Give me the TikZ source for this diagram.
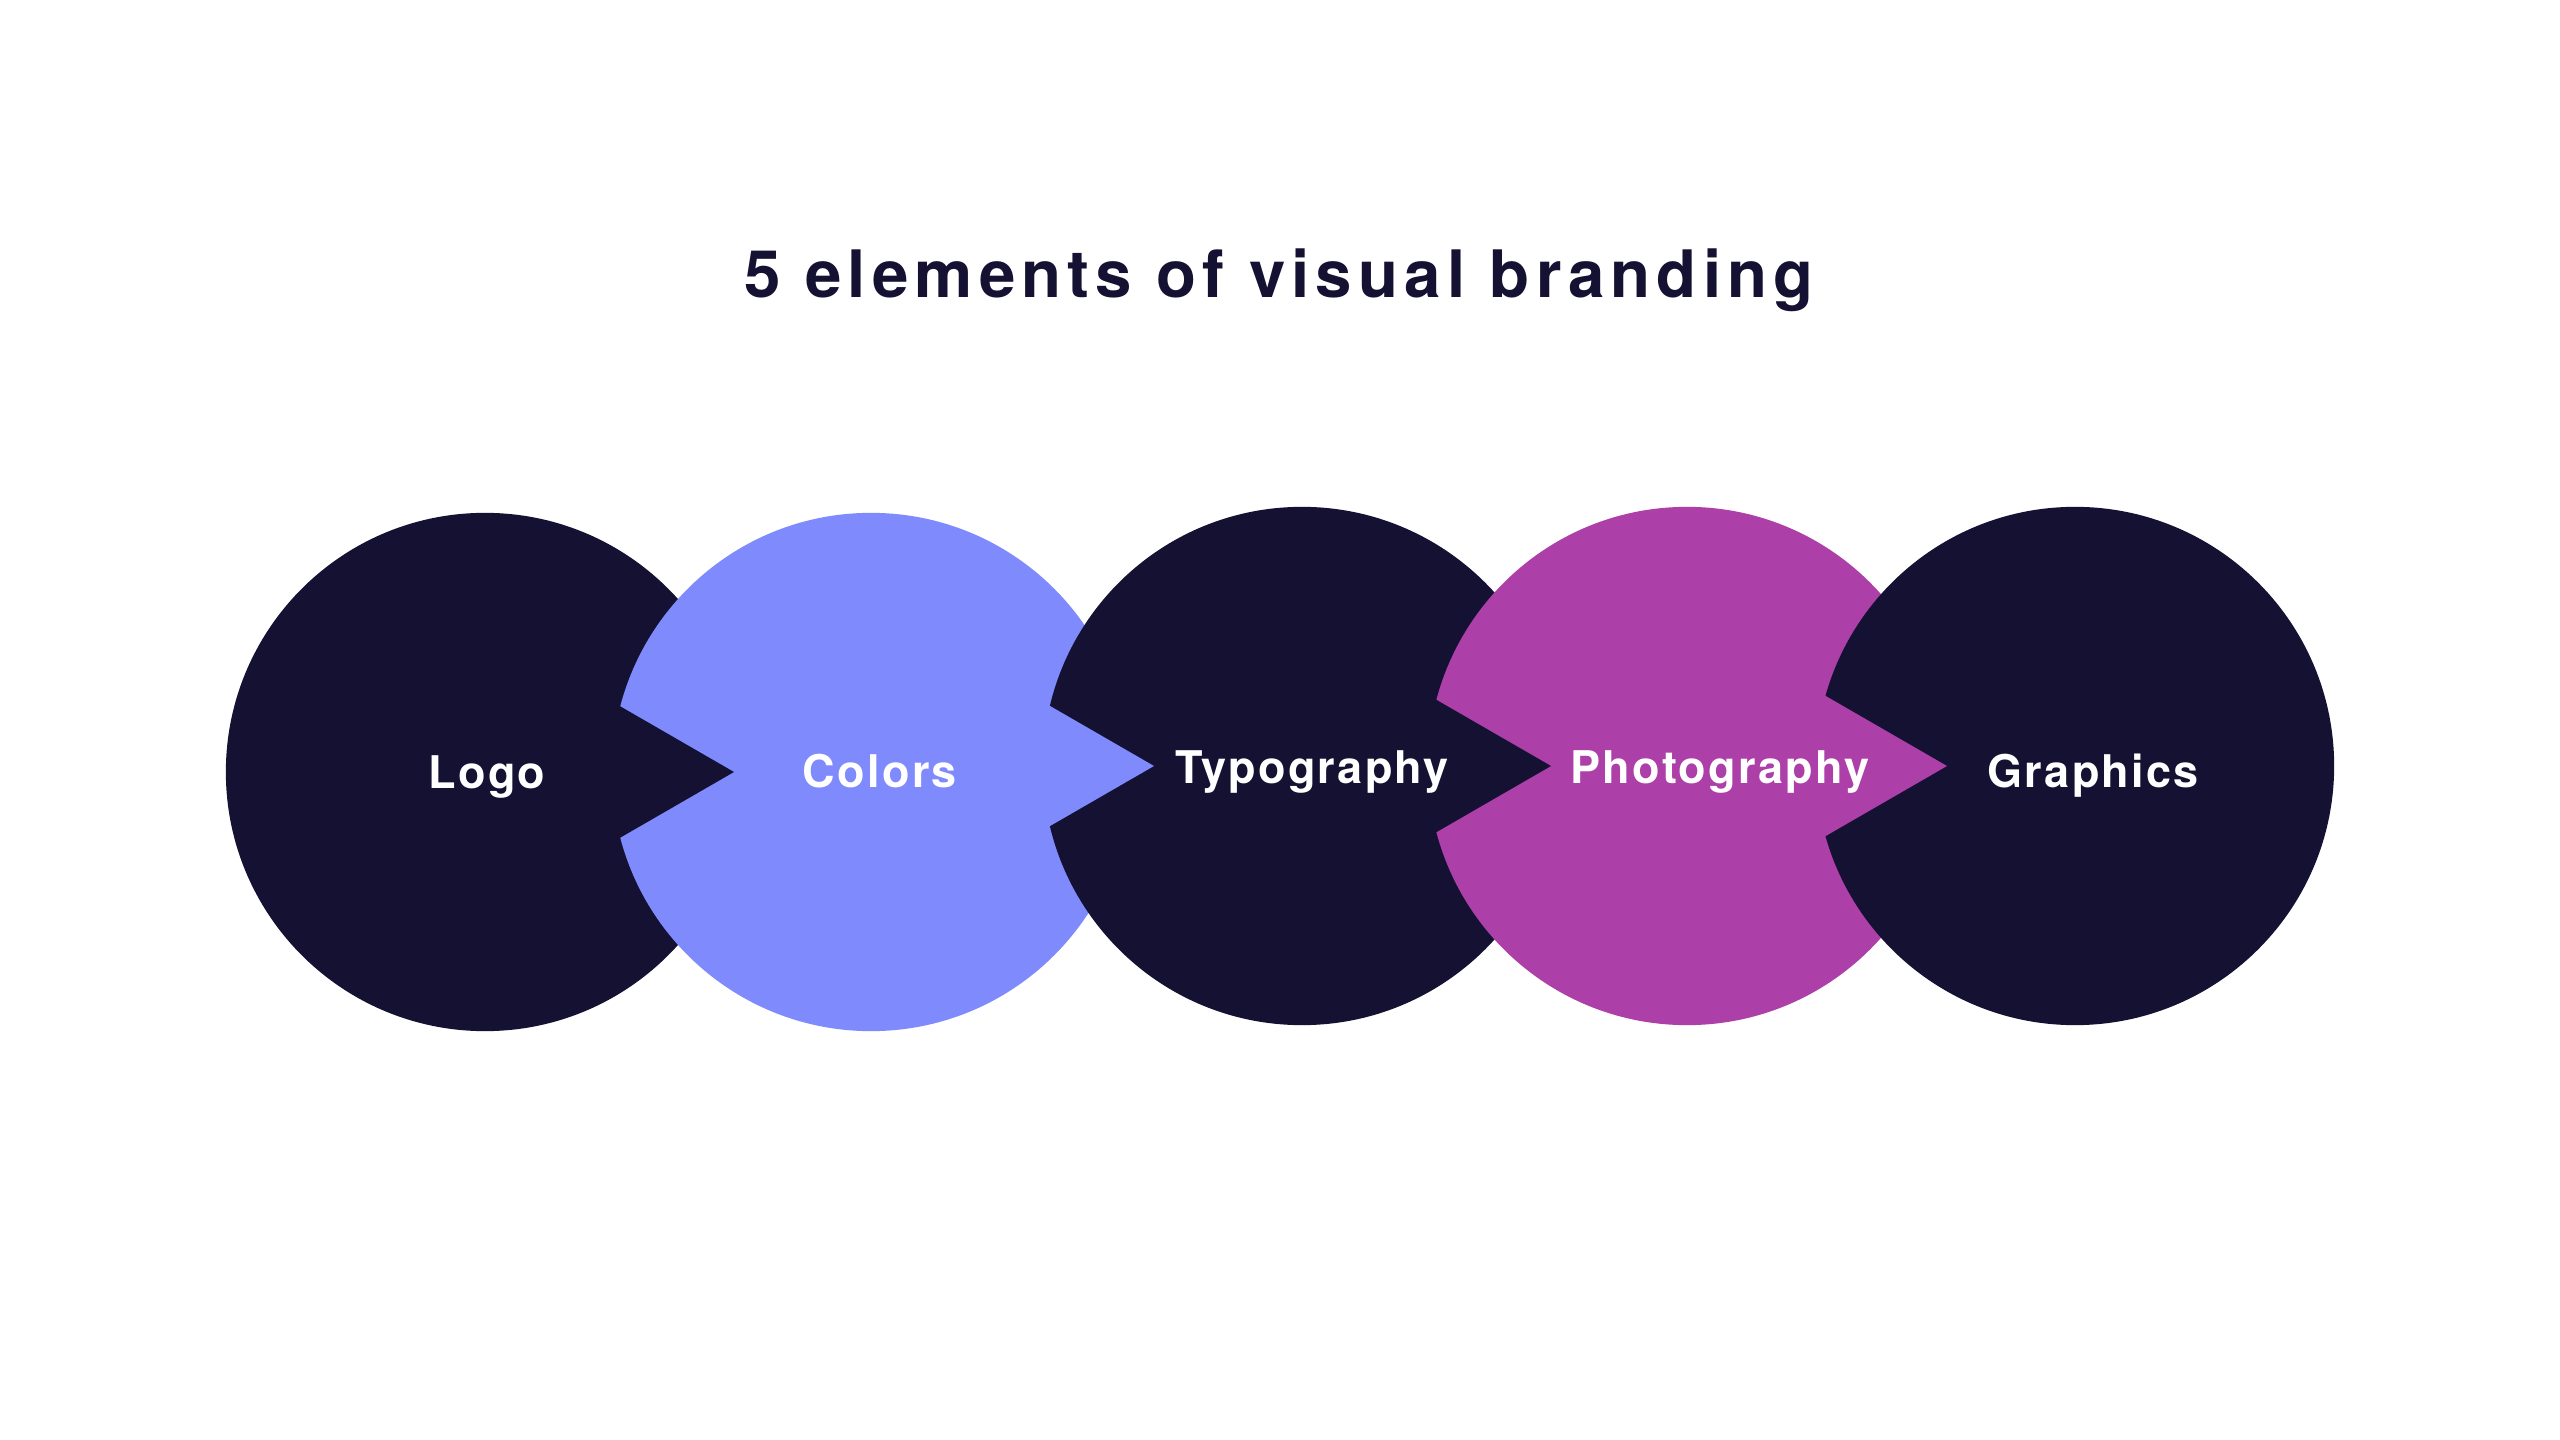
\documentclass[tikz,border=0pt]{standalone}
\usepackage{fontspec}
\setmainfont{TeX Gyre Heros}
\newfontfamily\titlefont[LetterSpace=9.5]{TeX Gyre Heros}
\newfontfamily\labelfont[LetterSpace=5]{TeX Gyre Heros}
\definecolor{navy}{HTML}{141133}
\definecolor{peri}{HTML}{7F8BFC}
\definecolor{plum}{HTML}{AD3FA9}
\tikzset{
  lab/.style={text=white, anchor=base, inner sep=0pt, font=\labelfont\bfseries\fontsize{12.8}{14}\selectfont},
  ttl/.style={text=navy, anchor=base, inner sep=0pt, font=\titlefont\bfseries\fontsize{18.6}{22}\selectfont},
}
\newcommand{\wedgefill}[3]{% color, tip, clip circle center
  \begin{scope}
    \clip (#3) circle (2.61cm);
    \fill[#1] (#2) -- ++(150:2.4cm) -- ++(0,-2.4cm) -- cycle;
  \end{scope}}
\begin{document}
\begin{tikzpicture}[x=0.01cm,y=-0.01cm]
  \useasboundingbox (0,0) rectangle (2560,1440);
  \fill[white] (0,0) rectangle (2560,1440);
  % circle centres
  \coordinate (c1) at (485,772);
  \coordinate (c2) at (871,772);
  \coordinate (c3) at (1302,766);
  \coordinate (c4) at (1687,766);
  \coordinate (c5) at (2075,766);
  % wedge tips
  \coordinate (t1) at (734,772);
  \coordinate (t2) at (1154,766);
  \coordinate (t3) at (1551,766);
  \coordinate (t4) at (1947,766);
  % shapes, left to right
  \fill[navy] (c1) circle (2.59cm);
  \fill[peri] (c2) circle (2.59cm);
  \wedgefill{navy}{t1}{c2}
  \fill[navy] (c3) circle (2.59cm);
  \wedgefill{peri}{t2}{c3}
  \fill[plum] (c4) circle (2.59cm);
  \wedgefill{navy}{t3}{c4}
  \fill[navy] (c5) circle (2.59cm);
  \wedgefill{plum}{t4}{c5}
  % texts
  \node[ttl] (title) at (1279,298) {5 elements of visual branding};
  \node[lab] (logo) at (487,789) {Logo};
  \node[lab] (colors) at (880,788) {Colors};
  \node[lab] (typo) at (1312,784) {Typography};
  \node[lab] (photo) at (1720,784) {Photography};
  \node[lab] (graph) at (2093,788) {Graphics};
\end{tikzpicture}
\end{document}
